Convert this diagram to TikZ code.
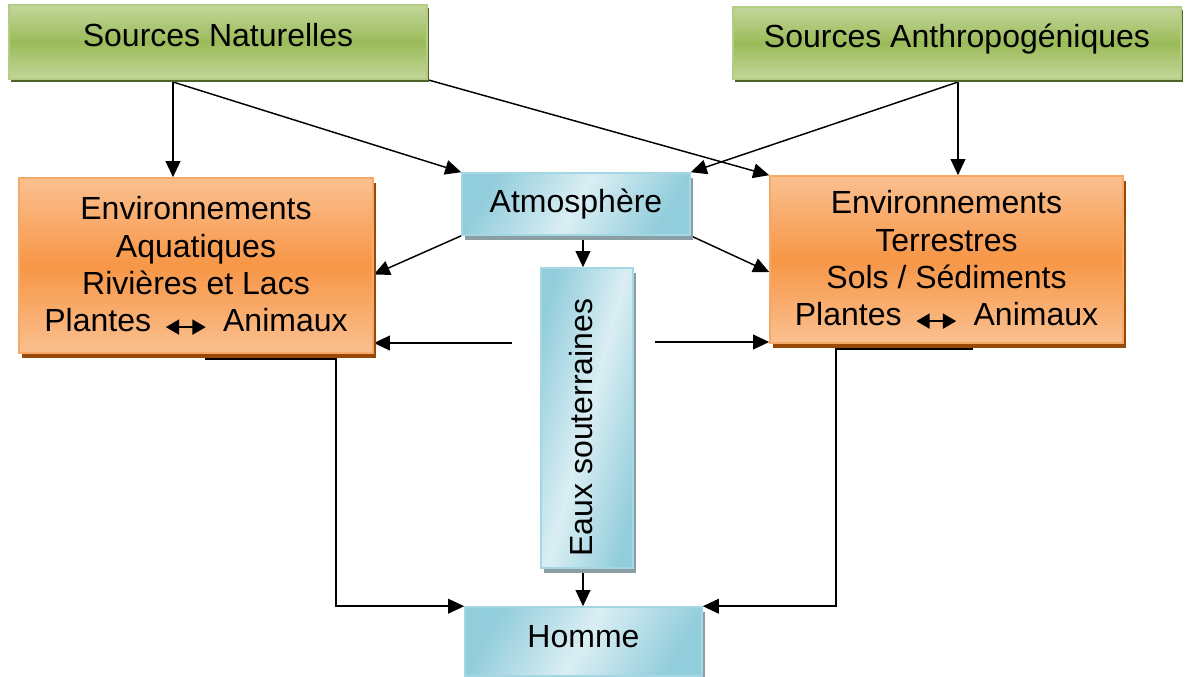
\documentclass[tikz,border=0pt]{standalone}
\usepackage{fontspec}
\setmainfont{Liberation Sans}
\usetikzlibrary{arrows.meta,shadows,calc}
\pgfdeclarelayer{bg}
\pgfsetlayers{bg,main}

\definecolor{gLight}{HTML}{C3D69B}
\definecolor{gMid}{HTML}{9BBB59}
\definecolor{gLine}{HTML}{B3CD84}
\definecolor{gShadow}{HTML}{4F6228}
\definecolor{oLight}{HTML}{FAC090}
\definecolor{oMid}{HTML}{F79646}
\definecolor{oLine}{HTML}{F6A867}
\definecolor{oShadow}{HTML}{984807}
\definecolor{bLight}{HTML}{DAEEF3}
\definecolor{bDark}{HTML}{92CDDC}
\definecolor{bLine}{HTML}{A5D6E3}
\definecolor{bShadow}{HTML}{8A9FA4}

\tikzset{
  box/.style={draw, line width=1.2pt, inner sep=0pt,
    font=\fontsize{24pt}{28pt}\selectfont, align=center},
  greenbox/.style={box, draw=gLine, top color=gLight, bottom color=gLight, middle color=gMid,
    general shadow={fill=gShadow, shadow xshift=1.8pt, shadow yshift=-2.6pt},
    text height=17pt, text depth=9.8pt},
  orangebox/.style={box, draw=oLine, top color=oLight, bottom color=oLight, middle color=oMid,
    general shadow={fill=oShadow, shadow xshift=2.2pt, shadow yshift=-3.7pt}},
  bluebox/.style={box, draw=bLine, left color=bDark, right color=bDark, middle color=bLight,
    shading angle=60,
    general shadow={fill=bShadow, shadow xshift=2.2pt, shadow yshift=-4pt}},
  arr/.style={draw=black, line width=1.1pt, -{Triangle[length=12pt,width=11pt]}}
}
\newcommand\plantesanimaux{Plantes\hspace{10pt}\tikz[baseline=-3.5pt]\draw[draw=black,fill=black,line width=2pt,{Triangle[length=10pt,width=11pt]}-{Triangle[length=10pt,width=11pt]}] (0pt,0pt) -- (30pt,0pt);\hspace{12pt}Animaux}

\begin{document}
\begin{tikzpicture}[x=0.75pt,y=-0.75pt]
\useasboundingbox (0,0) rectangle (1186,676);

% nodes
\node[greenbox, minimum width=313.5pt, minimum height=55.5pt] (sn) at (218,42) {Sources Naturelles};
\node[greenbox, minimum width=336pt, minimum height=54pt] (sa) at (957,43) {Sources Anthropogéniques};
\node[bluebox, minimum width=171pt, minimum height=46.5pt] (atm) at (576,204) {Atmosphère};
\node[orangebox, minimum width=265.5pt, minimum height=131.25pt] (lo) at (196,265.5)
  {Environnements\\Aquatiques\\Rivières et Lacs\\\plantesanimaux};
\node[orangebox, minimum width=264.75pt, minimum height=125.25pt] (ro) at (946.5,259.5)
  {Environnements\\Terrestres\\Sols / Sédiments\\\plantesanimaux};
\node[bluebox, shading angle=75, minimum width=69pt, minimum height=225pt] (eaux) at (587,418)
  {\rotatebox{90}{\raisebox{0pt}[17pt][8.2pt]{Eaux souterraines\hspace*{14.2pt}}}};
\node[bluebox, minimum width=177.75pt, minimum height=51.75pt, text height=17pt, text depth=8.2pt] (homme) at (583.5,641.5) {Homme};

% helper coordinates
\coordinate (snA) at (173,82);
\coordinate (saA) at (958,82);
\coordinate (mid) at (583,0);
\coordinate (eL) at (512,343);
\coordinate (eR) at (655,342);
\coordinate (lb) at (205,359);
\coordinate (lc) at (336,359);
\coordinate (rb) at (973,349);
\coordinate (rc) at (836,349);

\begin{pgfonlayer}{bg}
\draw[arr] (snA) -- (snA |- lo.north);
\draw[arr] (snA) -- (atm.north west);
\draw[arr] (sn.south east) -- (ro.north west);
\draw[arr] (saA) -- (saA |- ro.north);
\draw[arr] (saA) -- (atm.north east);
\draw[arr] (atm.south west) -- ($(lo.east)+(0,9)$);
\draw[arr] (atm.south east) -- ($(ro.west)+(0,12.5)$);
\draw[arr] (mid |- atm.south) -- (mid |- eaux.north);
\draw[arr] (eL) -- (eL -| lo.east);
\draw[arr] (eR) -- (eR -| ro.west);
\draw[arr] (lb) -- (lc) |- (homme.north west);
\draw[arr] (rb) -- (rc) |- (homme.north east);
\draw[arr] (mid |- eaux.south) -- (mid |- homme.north);
\end{pgfonlayer}
\end{tikzpicture}
\end{document}
